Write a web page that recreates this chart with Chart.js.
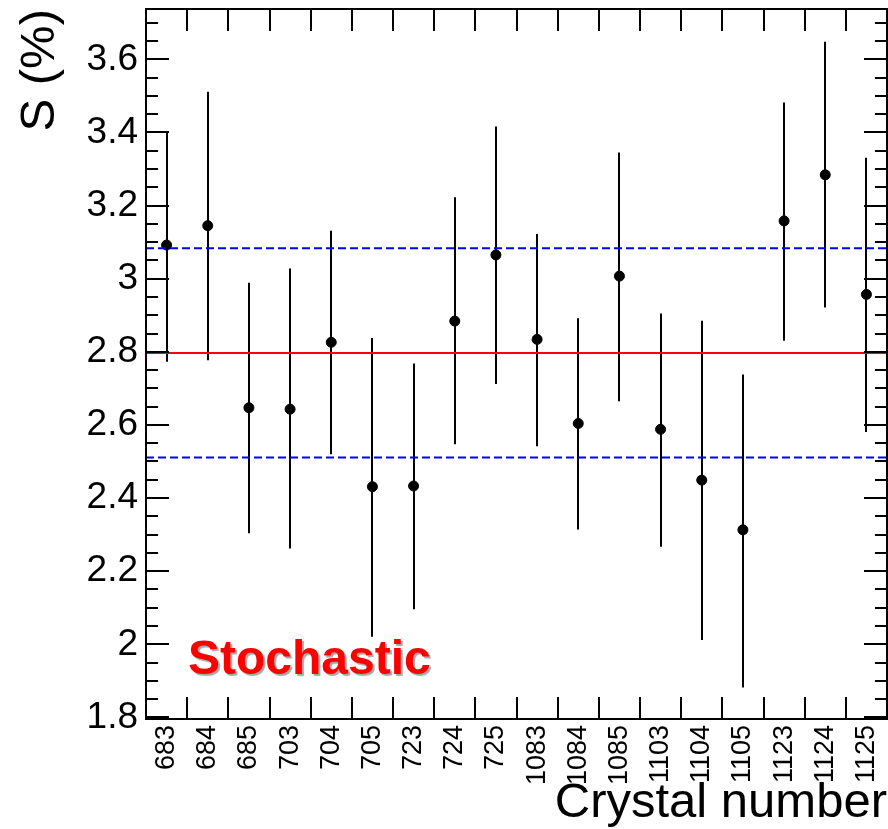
<!DOCTYPE html>
<html>
<head>
<meta charset="utf-8">
<script src="https://cdn.jsdelivr.net/npm/chart.js@4.4.1/dist/chart.umd.min.js"></script>
<style>
  body { margin: 0; background: #fff; }
  #wrap { width: 888px; height: 829px; }
</style>
</head>
<body>
<div id="wrap"><canvas id="myChart"></canvas></div>
<script>
// crystal ids along the x axis
const crystals = ['683', '684', '685', '703', '704', '705', '723', '724', '725',
                  '1083', '1084', '1085', '1103', '1104', '1105', '1123', '1124', '1125'];
// stochastic term S (%) and its error bar ends
const sValues = [3.092, 3.145, 2.647, 2.643, 2.826, 2.431, 2.433, 2.884, 3.065,
                 2.834, 2.604, 3.007, 2.588, 2.449, 2.313, 3.158, 3.284, 2.957];
const errLow  = [2.773, 2.777, 2.304, 2.262, 2.520, 2.021, 2.096, 2.547, 2.712,
                 2.542, 2.314, 2.665, 2.267, 2.012, 1.882, 2.830, 2.921, 2.581];
const errHigh = [3.401, 3.511, 2.989, 3.028, 3.131, 2.838, 2.768, 3.223, 3.416,
                 3.122, 2.892, 3.345, 2.905, 2.885, 2.738, 3.482, 3.648, 3.331];
// mean and +-1 sigma band
const meanValue = 2.797;
const bandLow = 2.511;
const bandHigh = 3.083;
const yTickValues = [1.8, 2, 2.2, 2.4, 2.6, 2.8, 3, 3.2, 3.4, 3.6];
const yMin = 1.7957;
const yMax = 3.7376;

const xLo = -0.5;
const xHi = crystals.length - 0.5;

function hLine(value) {
    return [{ x: xLo, y: value }, { x: xHi, y: value }];
}

// ROOT style frame, inward ticks, error bars and the label
const rootFrame = {
    id: 'rootFrame',
    beforeDatasetsDraw(chart) {
        const { ctx, scales: { x, y } } = chart;
        ctx.save();
        ctx.strokeStyle = '#000';
        ctx.lineWidth = 2;
        crystals.forEach((c, i) => {
            const px = Math.round(x.getPixelForValue(i));
            ctx.beginPath();
            ctx.moveTo(px, y.getPixelForValue(errLow[i]));
            ctx.lineTo(px, y.getPixelForValue(errHigh[i]));
            ctx.stroke();
        });
        ctx.restore();
    },
    afterDatasetsDraw(chart) {
        const { ctx, chartArea: a, scales: { x, y } } = chart;
        const seg = (x1, y1, x2, y2) => {
            ctx.beginPath();
            ctx.moveTo(x1, y1);
            ctx.lineTo(x2, y2);
            ctx.stroke();
        };
        ctx.save();
        ctx.strokeStyle = '#000';
        ctx.lineWidth = 2;
        ctx.strokeRect(a.left, a.top, a.right - a.left, a.bottom - a.top);

        for (let i = 0; i < crystals.length - 1; i++) {
            const px = Math.round(x.getPixelForValue(i + 0.5));
            seg(px, a.bottom, px, a.bottom - 22);
            seg(px, a.top, px, a.top + 22);
        }

        for (let k = 0; ; k++) {
            const v = 1.8 + k * 0.05;
            if (v > yMax) break;
            const py = Math.round(y.getPixelForValue(v));
            const len = k % 4 === 0 ? 23 : 12;
            seg(a.left, py, a.left + len, py);
            seg(a.right, py, a.right - len, py);
        }
        ctx.restore();
    },
    afterDraw(chart) {
        const { ctx } = chart;
        ctx.save();
        ctx.font = 'bold 48px "Liberation Sans", Arial, sans-serif';
        ctx.fillStyle = '#ff0000';
        ctx.shadowColor = 'rgba(0,0,0,0.35)';
        ctx.shadowOffsetX = 2;
        ctx.shadowOffsetY = 2;
        ctx.shadowBlur = 1;
        ctx.fillText('Stochastic', 188, 674);
        ctx.restore();
    }
};

const ctx1 = document.getElementById('myChart').getContext('2d');
const chartInstance = new Chart(ctx1, {
    type: 'scatter',
    data: {
        datasets: [
            {
                type: 'line',
                data: hLine(meanValue),
                borderColor: '#ff0000',
                borderWidth: 2,
                pointRadius: 0,
                fill: false
            },
            {
                type: 'line',
                data: hLine(bandHigh),
                borderColor: '#0000ff',
                borderWidth: 2,
                borderDash: [8, 4],
                pointRadius: 0,
                fill: false
            },
            {
                type: 'line',
                data: hLine(bandLow),
                borderColor: '#0000ff',
                borderWidth: 2,
                borderDash: [8, 4],
                pointRadius: 0,
                fill: false
            },
            {
                data: sValues.map((v, i) => ({ x: i, y: v })),
                backgroundColor: '#000',
                borderColor: '#000',
                pointRadius: 5,
                pointHoverRadius: 5
            }
        ]
    },
    options: {
        responsive: true,
        maintainAspectRatio: false,
        animation: false,
        events: [],
        layout: { autoPadding: false, padding: { top: 9, right: 1, left: 0, bottom: 0 } },
        plugins: {
            legend: { display: false },
            tooltip: { enabled: false }
        },
        scales: {
            x: {
                type: 'linear',
                min: xLo,
                max: xHi,
                grid: { display: false, drawTicks: false },
                border: { display: false },
                afterBuildTicks: (scale) => {
                    scale.ticks = crystals.map((c, i) => ({ value: i }));
                },
                afterFit: (scale) => {
                    scale.height = 110;
                    scale.paddingLeft = 0;
                    scale.paddingRight = 0;
                },
                ticks: {
                    autoSkip: false,
                    minRotation: 90,
                    maxRotation: 90,
                    padding: 6,
                    color: '#000',
                    font: { family: '"Liberation Sans", Arial, sans-serif', size: 27 },
                    callback: (value) => crystals[Math.round(value)]
                },
                title: {
                    display: true,
                    text: 'Crystal number',
                    align: 'end',
                    color: '#000',
                    padding: { top: 0, bottom: 1.5 },
                    font: { family: '"Liberation Sans", Arial, sans-serif', size: 49, lineHeight: 1 }
                }
            },
            y: {
                min: yMin,
                max: yMax,
                grid: { display: false, drawTicks: false },
                border: { display: false },
                afterBuildTicks: (scale) => {
                    scale.ticks = yTickValues.map(v => ({ value: v }));
                },
                afterFit: (scale) => {
                    scale.width = 146;
                    scale.paddingTop = 0;
                    scale.paddingBottom = 0;
                },
                ticks: {
                    padding: 8,
                    color: '#000',
                    font: { family: '"Liberation Sans", Arial, sans-serif', size: 37 },
                    callback: (value) => String(+value.toFixed(1))
                },
                title: {
                    display: true,
                    text: 'S (%)',
                    align: 'end',
                    color: '#000',
                    padding: { top: 15.5, bottom: 0 },
                    font: { family: '"Liberation Sans", Arial, sans-serif', size: 49, lineHeight: 1 }
                }
            }
        }
    },
    plugins: [rootFrame]
});
</script>
</body>
</html>
